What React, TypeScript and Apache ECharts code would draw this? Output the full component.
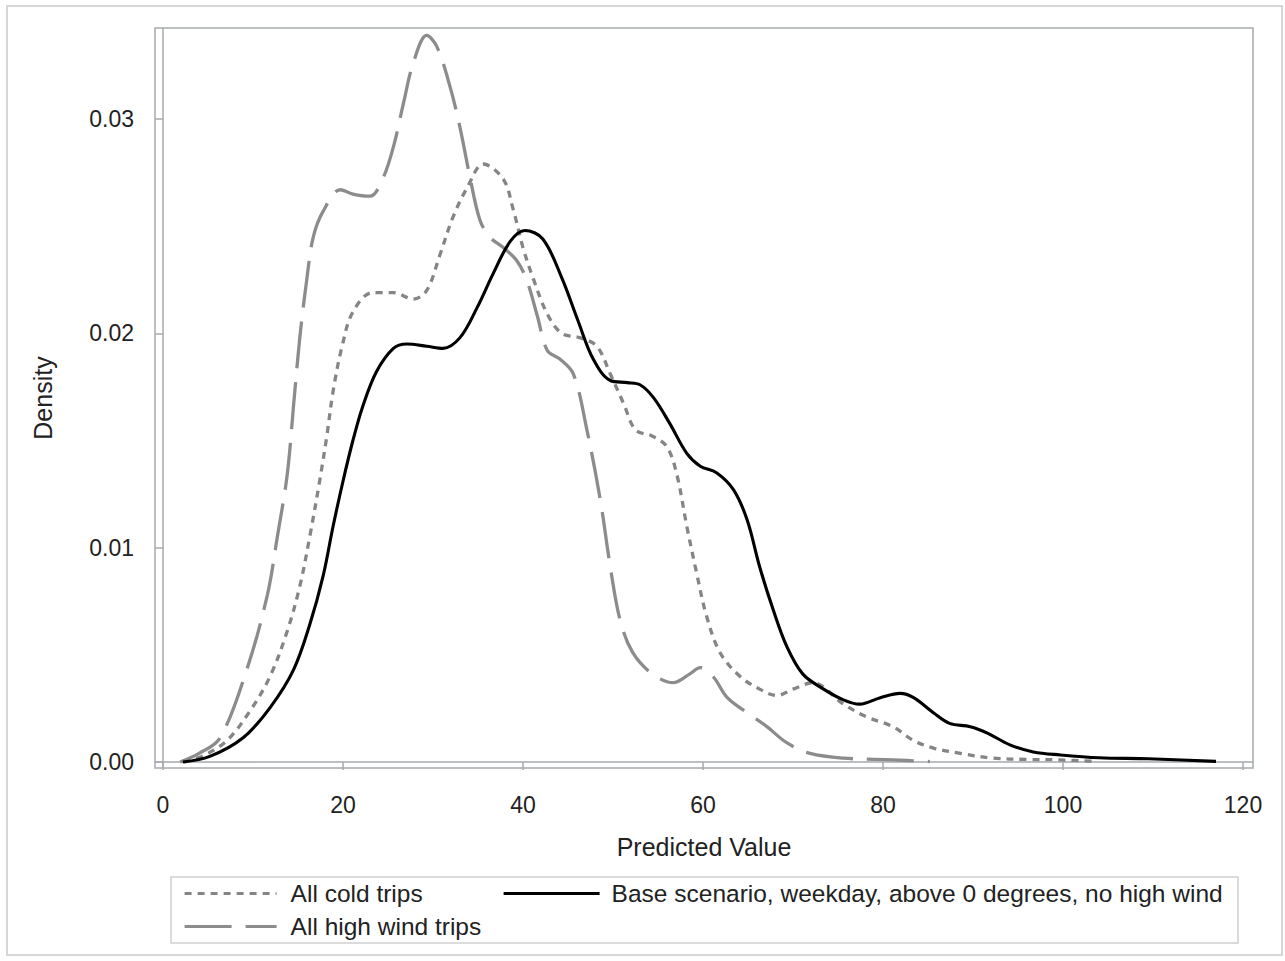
import React, { useEffect, useRef } from "react";
import * as echarts from "echarts";

// ---- Data ----
const xTicks = [0, 20, 40, 60, 80, 100, 120];
const yTicks = [0, 0.01, 0.02, 0.03];

const seriesNames = [
  "All cold trips",
  "Base scenario, weekday, above 0 degrees, no high wind",
  "All high wind trips",
];

// Base scenario (solid black)
const baseX = [2.2, 5.2, 8.9, 11.9, 14.5, 16.3, 17.8, 18.9, 20, 21.1, 22.2, 23.7, 25.6, 27.1, 29.3, 31.1, 33, 34.9, 36.7, 38.6, 40.2, 42.2, 44.3, 46.1, 47.8, 49.7, 51.6, 53, 54.5, 56.3, 58.2, 59.7, 61.5, 63.4, 64.9, 66.3, 67.8, 69.3, 71.1, 73.4, 75.6, 77.4, 79.7, 81.9, 83.4, 85.6, 87.4, 89.7, 91.6, 94.1, 96.7, 99.7, 104, 109.5, 117];
const baseY = [0, 0.26, 1.13, 2.54, 4.3, 6.4, 8.7, 11.0, 13.1, 15.0, 16.6, 18.2, 19.3, 19.5, 19.4, 19.3, 19.8, 21.2, 22.8, 24.3, 24.8, 24.4, 22.6, 20.6, 18.8, 17.8, 17.7, 17.6, 17.0, 15.8, 14.4, 13.8, 13.5, 12.7, 11.3, 9.1, 7.1, 5.4, 4.1, 3.4, 2.9, 2.7, 3.0, 3.2, 3.0, 2.3, 1.8, 1.65, 1.35, 0.8, 0.47, 0.33, 0.2, 0.15, 0.03];

// All cold trips (short dashes)
const coldX = [2.3, 4.5, 7.1, 9.7, 11.9, 13.8, 15.2, 16.3, 17.4, 18.2, 18.9, 19.9, 21.1, 23.3, 25.6, 27.8, 29.3, 30.8, 32.2, 33.8, 35.6, 37.8, 38.9, 40, 41.1, 42.7, 44.3, 46.3, 48.2, 49.7, 51.2, 52.5, 54.4, 56, 57.1, 58.2, 59.3, 60.4, 61.9, 64.1, 66.3, 68.2, 70, 72.2, 75.6, 78.2, 81.1, 83.4, 85.6, 88.6, 92.2, 96, 99.7, 103.8];
const coldY = [0, 0.3, 1.0, 2.4, 4.0, 6.1, 8.2, 10.5, 13.1, 15.2, 17.3, 19.4, 21.0, 21.9, 21.9, 21.6, 22.0, 23.7, 25.4, 26.8, 27.9, 27.2, 25.8, 24.0, 22.6, 20.9, 20.0, 19.8, 19.4, 18.1, 16.7, 15.5, 15.2, 14.7, 13.4, 11.0, 8.8, 6.8, 5.1, 4.0, 3.4, 3.1, 3.4, 3.7, 2.7, 2.1, 1.65, 1.0, 0.65, 0.4, 0.18, 0.12, 0.1, 0.02];

// All high wind trips (long dashes)
const windX = [1.9, 4, 6.3, 9.3, 11.6, 12.7, 13.8, 14.5, 15.2, 16, 16.7, 17.8, 19.7, 21.1, 23, 24.4, 25.6, 26.7, 27.8, 29.3, 30.4, 31.9, 33, 34.1, 35.2, 36.3, 37.8, 39.3, 40.4, 41.6, 42.7, 44.1, 45.6, 47.1, 48.6, 49.7, 50.8, 52.2, 54.4, 56.7, 58.5, 59.7, 61.1, 62.7, 64.9, 67.1, 69.3, 71.9, 75.6, 81.1, 85.2];
const windY = [0, 0.4, 1.1, 4.3, 7.8, 10.5, 13.4, 16.6, 19.8, 22.6, 24.5, 25.7, 26.7, 26.5, 26.4, 27.2, 28.7, 30.7, 32.6, 33.9, 33.4, 31.5, 29.6, 27.3, 25.3, 24.5, 24.0, 23.4, 22.5, 20.8, 19.2, 18.8, 18.1, 15.5, 12.2, 9.1, 6.6, 5.1, 4.1, 3.7, 4.1, 4.4, 4.0, 3.0, 2.3, 1.65, 0.9, 0.4, 0.18, 0.1, 0.02];

const pairs = (xs: number[], ys: number[]) => xs.map((x, i) => [x, ys[i] / 1000]);

const FONT = "'Liberation Sans', Arial, sans-serif";

export default function App() {
  const ref = useRef<HTMLDivElement>(null);
  useEffect(() => {
    if (!ref.current) return;
    const chart = echarts.init(ref.current, null, { renderer: "svg" });
    const frame = "#a7abaf";
    const hiddenSymbol = { color: "rgba(0,0,0,0)", borderWidth: 0, opacity: 0 };
    chart.setOption({
      animation: false,
      backgroundColor: "#ffffff",
      grid: {
        left: 155,
        top: 28,
        width: 1098,
        height: 740,
        show: true,
        borderColor: frame,
        borderWidth: 1.5,
        containLabel: false,
      },
      xAxis: {
        type: "value",
        min: -0.8889,
        max: 121.111,
        name: "Predicted Value",
        nameLocation: "middle",
        nameGap: 66,
        nameTextStyle: { fontSize: 25, color: "#222", fontFamily: FONT },
        axisLine: { show: true, lineStyle: { color: frame, width: 1.5 } },
        axisTick: { show: true, length: 8, lineStyle: { color: frame, width: 1.5 }, customValues: xTicks },
        axisLabel: { customValues: xTicks, fontSize: 23, color: "#222", fontFamily: FONT, margin: 25 },
        splitLine: { show: false },
      },
      yAxis: {
        type: "value",
        min: -0.00028,
        max: 0.034246,
        name: "Density",
        nameLocation: "middle",
        nameGap: 100,
        nameTextStyle: { fontSize: 25, color: "#222", fontFamily: FONT },
        axisLine: { show: true, lineStyle: { color: frame, width: 1.5 } },
        axisTick: { show: true, length: 8, lineStyle: { color: frame, width: 1.5 }, customValues: yTicks },
        axisLabel: {
          customValues: yTicks,
          fontSize: 23,
          color: "#222",
          fontFamily: FONT,
          margin: 21,
          formatter: (v: number) => v.toFixed(2),
        },
        splitLine: { show: false },
      },
      legend: [
        {
          data: [seriesNames[0], seriesNames[2]],
          orient: "vertical",
          left: 183,
          top: 881,
          padding: 0,
          itemWidth: 92,
          itemHeight: 24,
          itemGap: 8,
          selectedMode: false,
          itemStyle: hiddenSymbol,
          lineStyle: { width: 3.2 },
          textStyle: { fontSize: 24.5, color: "#222", fontFamily: FONT, lineHeight: 24, padding: [0, 0, 0, 9] },
        },
        {
          data: [seriesNames[1]],
          orient: "vertical",
          left: 502,
          top: 881,
          padding: 0,
          itemWidth: 96,
          itemHeight: 24,
          itemGap: 8,
          selectedMode: false,
          itemStyle: hiddenSymbol,
          lineStyle: { width: 3.2 },
          textStyle: { fontSize: 24.5, color: "#222", fontFamily: FONT, lineHeight: 24, padding: [0, 0, 0, 7] },
        },
      ],
      graphic: [
        {
          type: "rect",
          silent: true,
          shape: { x: 7, y: 6, width: 1275, height: 949 },
          style: { fill: "none", stroke: "#d6d6d6", lineWidth: 2 },
        },
        {
          type: "rect",
          silent: true,
          shape: { x: 171, y: 877, width: 1067, height: 66 },
          style: { fill: "none", stroke: "#cfcfcf", lineWidth: 1.5 },
        },
      ],
      series: [
        {
          name: seriesNames[0],
          type: "line",
          data: pairs(coldX, coldY),
          smooth: 0.35,
          symbol: "none",
          lineStyle: { color: "#858585", width: 3.3, type: [7, 6] },
          itemStyle: { color: "#858585" },
          z: 2,
        },
        {
          name: seriesNames[2],
          type: "line",
          data: pairs(windX, windY),
          smooth: 0.35,
          symbol: "none",
          lineStyle: { color: "#8c8c8c", width: 3.3, type: [47, 14] },
          itemStyle: { color: "#8c8c8c" },
          z: 2,
        },
        {
          name: seriesNames[1],
          type: "line",
          data: pairs(baseX, baseY),
          smooth: 0.35,
          symbol: "none",
          lineStyle: { color: "#000000", width: 3.1, type: "solid" },
          itemStyle: { color: "#000000" },
          z: 3,
        },
      ],
    });
    return () => chart.dispose();
  }, []);
  return (
    <div
      ref={ref}
      style={{ position: "fixed", left: 0, top: 0, width: 1285, height: 961, background: "#fff" }}
    />
  );
}
